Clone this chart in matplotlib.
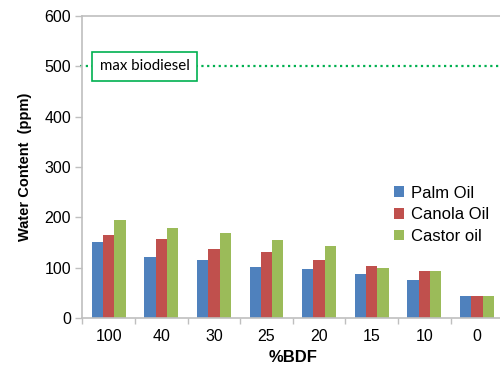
import matplotlib
matplotlib.use("Agg")
import matplotlib.pyplot as plt
import numpy as np

# Water content of biodiesel blends by %BDF
categories = ["100", "40", "30", "25", "20", "15", "10", "0"]
palm_oil = [152, 122, 115, 102, 97, 87, 75, 45]
canola_oil = [166, 158, 137, 131, 116, 104, 94, 45]
castor_oil = [195, 180, 170, 155, 143, 100, 93, 45]
series_names = ["Palm Oil", "Canola Oil", "Castor oil"]
series_colors = ["#4F81BD", "#C0504D", "#9BBB59"]
limit_value = 500
limit_label = "max biodiesel"
y_ticks = [0, 100, 200, 300, 400, 500, 600]

plt.rcParams["font.family"] = ["Liberation Sans", "DejaVu Sans"]
axis_gray = "#BFBFBF"

fig = plt.figure(figsize=(5.0, 3.65), dpi=100)
ax = fig.add_axes([0.1646, 0.128, 0.842, 0.829])

x = np.arange(len(categories))
bar_w = 0.215
for i, (vals, name, col) in enumerate(zip([palm_oil, canola_oil, castor_oil],
                                           series_names, series_colors)):
    ax.bar(x + (i - 1) * bar_w, vals, width=bar_w, color=col, label=name,
           edgecolor="none", zorder=2)

# regulatory limit line with its label box
ax.axhline(limit_value, xmin=-0.006, xmax=1.0, color="#00B050", linestyle=(0, (1, 1.6)),
           linewidth=1.6, clip_on=False, zorder=1)
ax.text(0.042, limit_value, limit_label, transform=ax.get_yaxis_transform(),
        ha="left", va="center", fontsize=10.8, family=["Lato", "DejaVu Sans"],
        bbox=dict(boxstyle="square,pad=0.5", facecolor="white",
                  edgecolor="#00B050", linewidth=1.2), zorder=3)

ax.set_xlim(-0.5, len(categories) - 0.5)
ax.set_ylim(0, 600)
ax.set_yticks(y_ticks)
ax.set_yticklabels([str(v) for v in y_ticks], fontsize=11.5)
ax.set_xticks(x)
ax.set_xticklabels(categories, fontsize=11.5)
ax.set_xticks(np.arange(len(categories) + 1) - 0.5, minor=True)
ax.tick_params(axis="x", which="major", length=0, pad=8)
ax.tick_params(axis="x", which="minor", length=4, color=axis_gray, width=1)
ax.tick_params(axis="y", length=5, color=axis_gray, width=1, pad=3)

for side in ["left", "bottom", "top"]:
    ax.spines[side].set_color(axis_gray)
    ax.spines[side].set_linewidth(1.2)
ax.spines["right"].set_visible(False)

ax.set_ylabel("Water Content  (ppm)", fontsize=10.5, fontweight="bold", labelpad=9)
ax.set_xlabel("%BDF", fontsize=12, fontweight="bold", labelpad=4)

ax.legend(loc="upper left", bbox_to_anchor=(0.774, 0.51),
          bbox_transform=fig.transFigure, frameon=False, fontsize=12,
          handlelength=0.6, handleheight=0.6, handletextpad=0.45,
          labelspacing=0.4, borderaxespad=0)

fig.savefig("out.png", dpi=100)
